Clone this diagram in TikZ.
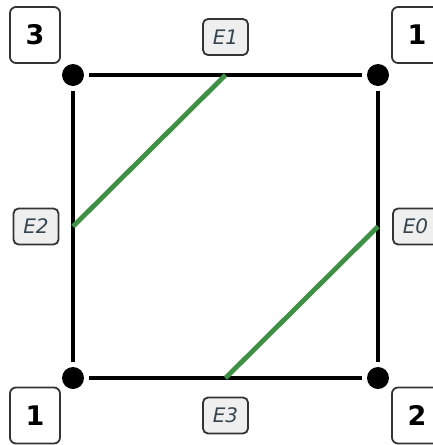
\documentclass[tikz,border=0pt]{standalone}
\usepackage{fontspec}
\setmainfont{DejaVu Sans}
\usetikzlibrary{calc}
\definecolor{boxgray}{HTML}{333333}
\definecolor{efill}{HTML}{EFEFEF}
\definecolor{etext}{HTML}{36454F}
\definecolor{grn}{HTML}{3F8F45}
\tikzset{
  vdot/.style={circle,fill=black,inner sep=0pt,minimum size=22pt},
  edge/.style={line width=4.5pt,black,shorten <=5pt,shorten >=5pt},
  chord/.style={line width=4.8pt,grn},
  cornerlab/.style={draw=boxgray,line width=1.8pt,rounded corners=6pt,fill=white,
    minimum width=50pt,minimum height=56pt,inner sep=0pt,font=\fontsize{27}{27}\selectfont\bfseries},
  elab/.style={draw=boxgray,line width=1.8pt,rounded corners=5pt,fill=efill,text=etext,
    minimum width=45pt,minimum height=36pt,inner sep=0pt,font=\fontsize{20}{20}\selectfont\itshape}
}
\begin{document}
\begin{tikzpicture}[x=1pt,y=1pt]
\useasboundingbox (0,0) rectangle (433,-445);
\node[vdot] (tl) at (73,-75) {};
\node[vdot] (tr) at (378,-75) {};
\node[vdot] (br) at (378,-378) {};
\node[vdot] (bl) at (73,-378) {};
\draw[edge] (tl) -- (tr);
\draw[edge] (tr) -- (br);
\draw[edge] (br) -- (bl);
\draw[edge] (bl) -- (tl);
\coordinate (mt) at ($(tl.center)!0.5!(tr.center)$);
\coordinate (ml) at ($(tl.center)!0.5!(bl.center)$);
\coordinate (mr) at ($(tr.center)!0.5!(br.center)$);
\coordinate (mb) at ($(bl.center)!0.5!(br.center)$);
\draw[chord] (mt) -- (ml);
\draw[chord] (mr) -- (mb);
\node[cornerlab] (ltl) at (35,-35) {3};
\node[cornerlab] (ltr) at (417,-35) {1};
\node[cornerlab] (lbl) at (35,-415.5) {1};
\node[cornerlab] (lbr) at (417,-415.5) {2};
\node[elab] (e1) at (225.5,-37) {E1};
\node[elab] (e2) at (36,-226.5) {E2};
\node[elab] (e0) at (415.5,-226.5) {E0};
\node[elab] (e3) at (225.5,-415.5) {E3};
\end{tikzpicture}
\end{document}
